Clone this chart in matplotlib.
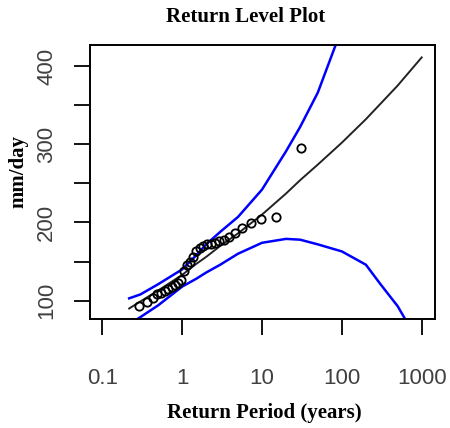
import numpy as np
import matplotlib.pyplot as plt

# return periods (years) for fitted curve and confidence bounds
period = [0.217, 0.3, 0.5, 1, 1.5, 2, 3, 5, 10, 20, 30, 50, 100, 200, 300, 500, 1000]
level = [90, 99, 113, 133, 147, 156, 170, 186, 210, 237, 254, 274, 302, 332, 351, 375, 411]
upper = [103, 108, 121, 140, 158, 172, 188, 207, 242, 291, 322, 366, 448, 560, 640, 760, 950]
lower = [70, 79, 94, 118, 128, 136, 146, 160, 174, 179, 178, 172, 163, 146, 122, 93, 40]

# observed annual maxima (sorted), mm/day
obs = [93, 98, 103, 108, 110, 113, 115, 117, 120, 123,
       126, 138, 145, 150, 156, 163, 167, 170, 172, 173,
       174, 176, 178, 181, 186, 193, 199, 204, 207, 295]

n = len(obs)
obs_period = -1 / np.log(np.arange(1, n + 1) / (n + 1))

serif = 'Liberation Serif'
sans = 'Liberation Sans'

fig = plt.figure(figsize=(4.5, 4.28), dpi=100)
ax = fig.add_axes([0.2, 0.2547, 0.7667, 0.6402])

ax.plot(period, level, color='#222222', lw=1.4)
ax.plot(period, upper, color='#0000ff', lw=1.8)
ax.plot(period, lower, color='#0000ff', lw=1.8)
ax.plot(obs_period, obs, 'o', mfc='none', mec='black', ms=6, mew=1.3)

ax.set_xscale('log')
ax.set_xlim(10**-1.154, 10**3.167)
ax.set_ylim(76.6, 426.9)

ax.set_xticks([0.1, 1, 10, 100, 1000])
ax.set_xticklabels(['0.1', '1', '10', '100', '1000'])
ax.xaxis.set_minor_locator(plt.NullLocator())
ax.set_yticks([100, 150, 200, 250, 300, 350, 400])
ax.set_yticklabels(['100', '', '200', '', '300', '', '400'], rotation=90, va='center')

ax.tick_params(axis='both', length=11.5, width=1.3, color='black', labelcolor='#404040')
ax.tick_params(axis='x', pad=24)
ax.tick_params(axis='y', pad=12)
for lab in ax.get_xticklabels() + ax.get_yticklabels():
    lab.set_fontfamily(sans)
    lab.set_fontsize(16)
for s in ax.spines.values():
    s.set_linewidth(1.4)

fig.text(246 / 450, 1 - 17 / 428, 'Return Level Plot', ha='center', va='center',
         fontsize=15, fontweight='bold', family=serif)
fig.text(264 / 450, 1 - 413 / 428, 'Return Period (years)', ha='center', va='center',
         fontsize=15, fontweight='bold', family=serif)
fig.text(18 / 450, 1 - 172 / 428, 'mm/day', ha='center', va='center', rotation=90,
         fontsize=15, fontweight='bold', family=serif)

fig.savefig('out.png', dpi=100)
